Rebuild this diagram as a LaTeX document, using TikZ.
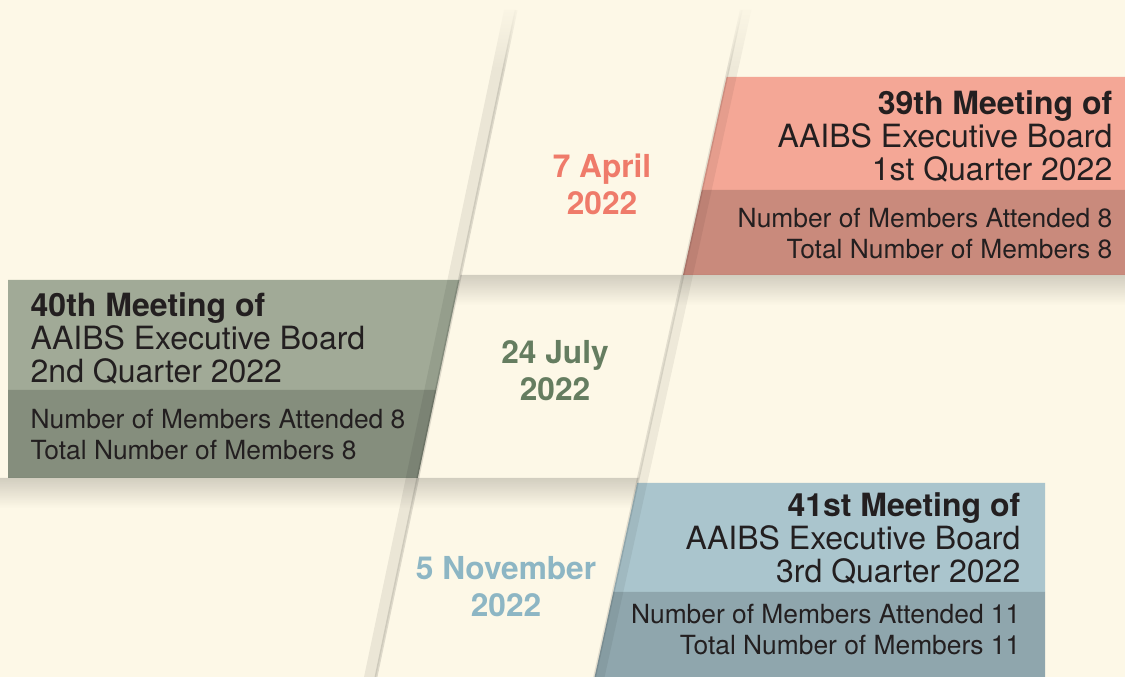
\documentclass[tikz,border=0pt]{standalone}
\usepackage{fontspec}
\setmainfont{TeX Gyre Heros}
\usetikzlibrary{fadings}
\definecolor{bgcream}{RGB}{253,248,231}
\definecolor{pinkhi}{RGB}{244,167,150}
\definecolor{pinklo}{RGB}{201,138,124}
\definecolor{greenhi}{RGB}{161,170,151}
\definecolor{greenlo}{RGB}{133,142,125}
\definecolor{bluehi}{RGB}{170,197,205}
\definecolor{bluelo}{RGB}{143,166,173}
\definecolor{pinkdate}{RGB}{239,123,106}
\definecolor{greendate}{RGB}{101,125,96}
\definecolor{bluedate}{RGB}{141,182,196}
\definecolor{textdark}{RGB}{35,31,32}
\begin{document}
\begin{tikzpicture}[x=0.01cm, y=-0.01cm,
    meettitle/.style={font=\fontsize{9.1}{9.5}\selectfont, text=textdark, inner sep=0pt},
    meetstats/.style={font=\fontsize{7.5}{8.9}\selectfont, text=textdark, inner sep=0pt},
    datelabel/.style={font=\fontsize{9}{10.5}\selectfont\bfseries, align=center, inner sep=0pt, anchor=north},
    foldstrip/.style={fill=black, opacity=0.07},
    foldline/.style={draw=black, opacity=0.12, line width=0.8pt},
    boxshade/.style={fill=black, opacity=0.17, path fading=south}]
    \fill[bgcream] (0,0) rectangle (1125,677);
    \useasboundingbox (0,0) rectangle (1125,677);
    % 39th meeting
    \fill[pinkhi] (726.6,77) -- (1125,77) -- (1125,190) -- (701.7,190) -- cycle;
    \fill[pinklo] (701.7,190) -- (1125,190) -- (1125,275) -- (683,275) -- cycle;
    % 40th meeting
    \fill[greenhi] (8,280) -- (459.4,280) -- (436.3,390) -- (8,390) -- cycle;
    \fill[greenlo] (8,390) -- (436.3,390) -- (417.8,478) -- (8,478) -- cycle;
    % 41st meeting
    \fill[bluehi] (637.2,483) -- (1045,483) -- (1045,592) -- (613.3,592) -- cycle;
    \fill[bluelo] (613.3,592) -- (1045,592) -- (1045,677) -- (594.6,677) -- cycle;
    % folds of the band
    \fill[foldstrip] (504.1,10) -- (516.1,10) -- (376,677) -- (364,677) -- cycle;
    \draw[foldline] (516.1,10) -- (376,677);
    \fill[foldstrip, opacity=0.06] (741.3,10) -- (751.3,10) -- (604.6,677) -- (594.6,677) -- cycle;
    \draw[foldline, opacity=0.10] (741.3,10) -- (594.6,677);
    % they fade out at the top
    \fill[bgcream, path fading=south] (480,0) rectangle (780,70);
    %
    \fill[boxshade] (460.4,275) -- (1125,275) -- (1125,305) -- (454.1,305) -- cycle;
    \fill[boxshade] (0,478) -- (638.3,478) -- (631.7,508) -- (0,508) -- cycle;
    %
    \node[meettitle, align=right, anchor=north east] (t39) at (1113,89.6)
        {{\bfseries 39th Meeting of}\\AAIBS Executive Board\\1st Quarter 2022};
    \node[meetstats, align=right, anchor=north east] (s39) at (1113,207)
        {Number of Members Attended 8\\Total Number of Members 8};
    \node[meettitle, align=left, anchor=north west] (t40) at (30,291.6)
        {{\bfseries 40th Meeting of}\\AAIBS Executive Board\\2nd Quarter 2022};
    \node[meetstats, align=left, anchor=north west] (s40) at (30,408)
        {Number of Members Attended 8\\Total Number of Members 8};
    \node[meettitle, align=right, anchor=north east] (t41) at (1021,491.6)
        {{\bfseries 41st Meeting of}\\AAIBS Executive Board\\3rd Quarter 2022};
    \node[meetstats, align=right, anchor=north east] (s41) at (1021,603)
        {Number of Members Attended 11\\Total Number of Members 11};
    %
    \node[datelabel, text=pinkdate] (d39) at (602,153.4) {7 April\\2022};
    \node[datelabel, text=greendate] (d40) at (555,339.5) {24 July\\2022};
    \node[datelabel, text=bluedate] (d41) at (506,555.5) {5 November\\2022};
\end{tikzpicture}
\end{document}
